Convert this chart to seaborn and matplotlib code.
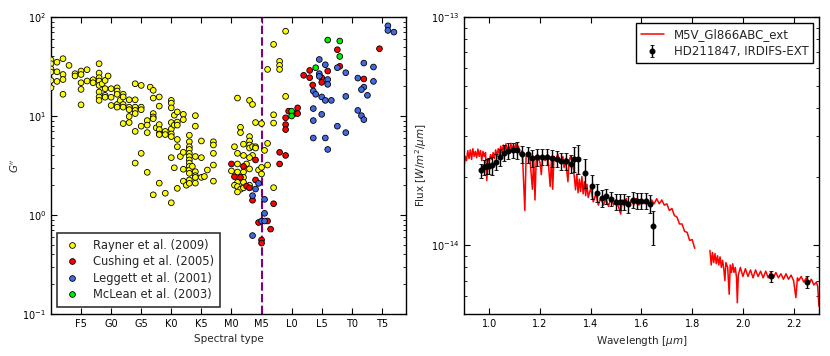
#!/usr/bin/env python3
"""
Colour index G'' vs spectral type, and SED of HD211847 B against an M5V template.
"""

import matplotlib
matplotlib.use("Agg")
import numpy as np
import pandas as pd
import matplotlib.pyplot as plt
from matplotlib.ticker import MultipleLocator, NullFormatter, FixedLocator
import seaborn as sns


# ---- left panel: G'' vs spectral type (F0 = 0, G0 = 10, K0 = 20, M0 = 30, L0 = 40, T0 = 50)
rayner_spt = [0, 0, 0, 0, 0, 0, 1, 1, 1, 2, 2, 2, 2, 3, 4, 4,
              5, 5, 5, 5, 5, 6, 6, 7, 7,
              8, 8, 8, 8, 8, 8, 8, 8, 8.5, 9, 9, 9, 9, 9.5, 10, 10, 10,
              11, 11, 11, 11, 11, 11.5, 12, 12, 12, 12, 12,
              13, 13, 13, 13, 13, 14, 14, 14, 14, 14, 14, 14,
              15, 15, 15, 15, 15, 16, 16, 16, 16.5, 17, 17, 17, 17, 17,
              17.5, 18, 18, 18, 18, 18, 18, 19, 19,
              20, 20, 20, 20, 20, 20, 20, 20, 20.5, 20.5,
              21, 21, 21, 21, 21, 21.5, 22, 22, 22,
              23, 23, 23, 23, 23, 23, 23, 23, 24, 24, 24, 25, 25, 27, 27, 27, 27,
              16, 17, 18, 19, 20, 20.5, 21, 22, 22, 22.5,
              23, 23, 23, 23, 23, 23.5, 24, 24, 24, 24, 25, 25.5, 26, 27,
              31, 33, 33.5, 34, 35, 36, 37, 37, 37, 38, 38, 38, 39, 39,
              31.5, 31.5, 33, 33, 33, 33, 30.5, 32, 33.5, 34, 34, 31, 32, 33.5,
              35.5, 36, 33,
              31, 32.5, 36, 30, 31, 32, 33, 34.5, 35, 35, 32, 31, 32, 30.5,
              31, 31.5, 31, 32, 33, 37]
rayner_g = [37, 33.8, 30, 27.8, 22.9, 19.3, 35, 28, 22.4, 38, 26.3, 23.4, 16.6, 32.5, 26.8, 25.4,
            28.5, 26.3, 21.7, 18.6, 13, 29.4, 22.6, 23.3, 21.7,
            33.8, 27.2, 24.4, 22.6, 20.4, 17.5, 15.6, 14.4, 21.2, 22.9, 18.9, 16.2, 15.5, 25.4, 18.9, 15.5, 12.8,
            19.3, 17.9, 16.6, 13.1, 12.3, 14.4, 16.6, 15.6, 13.1, 12.3, 8.4,
            14.6, 12.3, 11.6, 9.9, 8.6, 21.2, 14.6, 12.3, 11.4, 10.6, 7.0, 3.35,
            20.4, 12.3, 11.6, 7.9, 4.2, 9.0, 8.1, 6.8, 19.6, 18.2, 15.2, 10.6, 9.8, 9.4,
            7.6, 15.6, 12.6, 8.2, 7.3, 6.6, 6.5, 7.0, 6.5,
            14.4, 13.5, 12.1, 8.6, 7.4, 6.6, 6.2, 3.8, 10.2, 8.1,
            11.0, 8.7, 8.1, 5.8, 4.9, 3.9, 10.4, 9.2, 4.3,
            6.4, 5.5, 4.9, 4.6, 4.2, 3.9, 3.6, 3.35, 10.1, 7.9, 3.9, 5.6, 3.8, 5.5, 5.1, 4.2, 3.2,
            2.7, 1.6, 2.1, 1.66, 1.33, 3.0, 1.86, 2.9, 2.2, 2.0,
            3.1, 2.85, 2.64, 2.26, 2.09, 3.1, 2.74, 2.5, 2.4, 2.1, 2.4, 2.45, 2.85, 2.2,
            15.2, 14.4, 13.1, 8.6, 8.4, 29.6, 53, 10.3, 8.5, 35.7, 32.5, 29.6, 72, 15.8,
            7.7, 6.8, 6.2, 5.6, 5.1, 4.75, 4.9, 5.2, 4.9, 4.9, 4.75, 4.2, 4.0, 4.0,
            4.5, 5.3, 3.8,
            3.28, 3.28, 3.2, 2.79, 2.72, 2.72, 2.92, 2.85, 3.03, 2.6, 2.4, 2.14, 2.14, 2.0,
            1.94, 1.82, 1.71, 1.88, 2.0, 1.89]

cushing_spt = [30, 32, 30.5, 31.5, 32.5, 33, 34, 38, 33.5, 37, 34.5, 36, 36.5, 35, 35,
               39, 39, 39, 39.5, 40.5, 41, 41, 38, 39, 34,
               42, 43, 43, 43.5, 45, 45, 46, 47.6, 48, 52, 54.6]
cushing_g = [3.28, 3.1, 2.44, 2.4, 1.96, 1.88, 2.26, 3.28, 1.41, 1.3, 0.84, 0.87, 0.72, 0.56, 0.52,
             9.6, 8.2, 7.3, 11.2, 10.6, 12.1, 10.6, 4.3, 4.0, 3.6,
             25.8, 28.9, 24.4, 20.6, 24.4, 21.9, 28.5, 46.8, 31.8, 23.7, 47.9]

leggett_spt = [34.5, 34, 33.5, 35.5, 35.5, 35, 35.5, 33.5,
               44.6, 45.6, 44.6, 44.6, 46, 46, 47.6, 49, 43.6, 44, 45, 45.6, 46.6, 49,
               43.6, 45, 43.6, 47.6, 49, 43.6, 45.6, 46,
               51, 52, 53.6, 53.6, 52, 51.6, 52.6, 51, 51.6, 52, 56, 56, 57]
leggett_g = [2.09, 1.83, 1.57, 1.44, 1.04, 0.87, 0.87, 0.62,
             37.3, 33, 26.8, 25.2, 23.4, 20.9, 30.8, 27.4, 17.9, 16.6, 15.6, 14.4, 14.4, 15.8,
             11.9, 10.4, 9.0, 7.9, 6.8, 6.0, 6.0, 4.6,
             24.2, 34.3, 31.3, 22.4, 19.6, 18.5, 16.2, 11.4, 10.1, 9.2, 81.7, 73.3, 70.5]

mclean_spt = [40, 40, 44, 46, 48, 48]
mclean_g = [11.2, 10.0, 30.8, 58.6, 57.3, 40.0]

refs = ["Rayner et al. (2009)", "Cushing et al. (2005)",
        "Leggett et al. (2001)", "McLean et al. (2003)"]
ref_colors = ["#ffff00", "#ff0000", "#4169e1", "#00ee00"]

spt_ticks = [5, 10, 15, 20, 25, 30, 35, 40, 45, 50, 55]
spt_labels = ["F5", "G0", "G5", "K0", "K5", "M0", "M5", "L0", "L5", "T0", "T5"]

# ---- right panel: template spectrum (flux in 1e-14 W/m2/um), two segments
model_wl_a = [0.90, 0.905, 0.91, 0.915, 0.92, 0.925, 0.93, 0.935, 0.94, 0.945, 0.95, 0.955,
              0.96, 0.965, 0.97, 0.975, 0.98, 0.985, 0.99, 0.995,
              1.00, 1.005, 1.01, 1.015, 1.02, 1.025, 1.03, 1.035, 1.04, 1.045, 1.05, 1.055,
              1.06, 1.065, 1.07, 1.075, 1.08, 1.085, 1.09, 1.095, 1.10, 1.105, 1.11, 1.115,
              1.12, 1.13, 1.14, 1.145, 1.15, 1.16, 1.17, 1.175, 1.18, 1.185, 1.19, 1.20,
              1.205, 1.21, 1.22, 1.23, 1.24, 1.245, 1.25, 1.255, 1.26, 1.27, 1.28, 1.29,
              1.295, 1.30, 1.31, 1.315, 1.32, 1.33, 1.335, 1.34, 1.345, 1.35, 1.355, 1.36,
              1.365, 1.37, 1.375, 1.38, 1.385, 1.39, 1.40, 1.41, 1.42, 1.43, 1.44, 1.45,
              1.46, 1.47, 1.48, 1.49, 1.50, 1.51, 1.518, 1.525, 1.53, 1.54, 1.55, 1.56,
              1.57, 1.58, 1.59, 1.60, 1.61, 1.62, 1.63, 1.64, 1.65, 1.66, 1.67, 1.68,
              1.69, 1.70, 1.71, 1.72, 1.73, 1.74, 1.75, 1.76, 1.77, 1.78, 1.79, 1.80, 1.81]
model_flux_a = [2.20, 2.45, 2.35, 2.60, 2.40, 2.62, 2.38, 2.65, 2.45, 2.58, 2.42, 2.64,
                2.45, 2.60, 2.35, 2.58, 2.45, 2.55, 1.92, 2.40,
                2.35, 2.50, 2.38, 2.55, 2.40, 2.62, 2.45, 2.65, 2.50, 2.72, 2.55, 2.75,
                2.55, 2.78, 2.58, 2.72, 2.60, 2.80, 2.58, 2.76, 2.60, 2.80, 2.58, 2.72,
                2.50, 2.60, 1.42, 2.45, 2.55, 2.40, 1.76, 2.45, 1.58, 2.40, 2.50, 2.30,
                2.04, 2.45, 2.35, 2.50, 1.81, 2.40, 1.76, 2.45, 2.35, 2.50, 2.30, 2.45,
                2.19, 2.40, 1.90, 2.35, 2.45, 2.25, 2.00, 1.75, 2.05, 1.70, 1.95, 1.72,
                2.00, 1.68, 1.90, 1.65, 1.85, 1.62, 1.78, 1.55, 1.68, 1.50, 1.62, 1.50,
                1.60, 1.48, 1.62, 1.50, 1.58, 1.47, 1.37, 1.58, 1.50, 1.60, 1.48, 1.58,
                1.50, 1.60, 1.50, 1.58, 1.52, 1.60, 1.50, 1.58, 1.52, 1.60, 1.52, 1.58,
                1.50, 1.52, 1.42, 1.45, 1.35, 1.33, 1.24, 1.24, 1.15, 1.14, 1.05, 1.06, 0.97]
model_wl_b = [1.87, 1.875, 1.88, 1.885, 1.89, 1.895, 1.90, 1.905, 1.91, 1.915, 1.92, 1.925,
              1.929, 1.933, 1.94, 1.946, 1.95, 1.955, 1.96, 1.965, 1.97, 1.975, 1.978, 1.982,
              1.99, 2.00, 2.01, 2.02, 2.03, 2.04, 2.05, 2.06, 2.07, 2.08, 2.09, 2.10,
              2.11, 2.12, 2.13, 2.14, 2.15, 2.16, 2.17, 2.18, 2.19, 2.20, 2.209, 2.215,
              2.22, 2.23, 2.24, 2.25, 2.26, 2.27, 2.28, 2.29, 2.295, 2.30]
model_flux_b = [0.95, 0.82, 0.93, 0.84, 0.92, 0.83, 0.90, 0.82, 0.89, 0.80, 0.86, 0.78,
                0.70, 0.84, 0.80, 0.61, 0.82, 0.76, 0.83, 0.76, 0.80, 0.72, 0.56, 0.74,
                0.80, 0.73, 0.79, 0.73, 0.78, 0.72, 0.78, 0.73, 0.77, 0.72, 0.77, 0.72,
                0.76, 0.72, 0.76, 0.72, 0.75, 0.71, 0.75, 0.71, 0.74, 0.70, 0.59, 0.72,
                0.70, 0.73, 0.69, 0.72, 0.68, 0.71, 0.67, 0.69, 0.66, 0.54]

# ---- right panel: measured photometry (1e-14 W/m2/um)
obs_wl = [0.968, 0.979, 0.989, 1.000, 1.010, 1.025, 1.041, 1.058, 1.075, 1.093,
          1.110, 1.130, 1.151, 1.169, 1.188, 1.206, 1.226, 1.246, 1.266, 1.284,
          1.302, 1.321, 1.335, 1.351, 1.376, 1.406, 1.426, 1.443, 1.461, 1.478,
          1.498, 1.514, 1.531, 1.548, 1.565, 1.582, 1.599, 1.616, 1.632, 1.644,
          2.111, 2.251]
obs_flux = [2.13, 2.20, 2.23, 2.23, 2.24, 2.32, 2.43, 2.54, 2.60, 2.61,
            2.62, 2.51, 2.50, 2.41, 2.43, 2.44, 2.44, 2.41, 2.40, 2.34,
            2.33, 2.28, 2.40, 2.40, 2.08, 1.81, 1.70, 1.61, 1.64, 1.60,
            1.55, 1.55, 1.55, 1.52, 1.58, 1.57, 1.57, 1.57, 1.52, 1.21,
            0.733, 0.692]
obs_err = [0.15, 0.17, 0.17, 0.18, 0.20, 0.19, 0.20, 0.20, 0.20, 0.20,
           0.22, 0.22, 0.20, 0.20, 0.20, 0.20, 0.20, 0.20, 0.20, 0.20,
           0.20, 0.20, 0.30, 0.35, 0.30, 0.22, 0.15, 0.14, 0.12, 0.12,
           0.12, 0.12, 0.12, 0.13, 0.13, 0.13, 0.13, 0.13, 0.14, 0.21,
           0.04, 0.04]
flux_ticks = [1e-14, 1e-13]


def setup_style():
    sns.set_style("ticks")
    plt.rcParams.update({
        "font.family": ["DejaVu Sans"],
        "mathtext.fontset": "dejavusans",
        "axes.edgecolor": "black",
        "axes.linewidth": 1.0,
        "xtick.direction": "in",
        "ytick.direction": "in",
        "xtick.top": True,
        "ytick.right": True,
        "xtick.major.size": 4,
        "ytick.major.size": 4,
        "xtick.minor.size": 2,
        "ytick.minor.size": 2,
        "xtick.color": "black",
        "ytick.color": "black",
        "xtick.labelsize": 7,
        "ytick.labelsize": 7,
        "axes.labelsize": 7.5,
    })


def plot_colour_index(ax):
    frames = []
    for name, spt, g in zip(refs,
                            [rayner_spt, cushing_spt, leggett_spt, mclean_spt],
                            [rayner_g, cushing_g, leggett_g, mclean_g]):
        frames.append(pd.DataFrame({"spt": spt, "G": g, "ref": name}))
    df = pd.concat(frames, ignore_index=True)

    sns.scatterplot(data=df, x="spt", y="G", hue="ref", hue_order=refs,
                    palette=dict(zip(refs, ref_colors)), s=17,
                    edgecolor="black", linewidth=0.6, ax=ax, zorder=3)
    ax.axvline(35, color="purple", linestyle="--", dashes=(4, 1.6), linewidth=1.5, zorder=2)

    ax.set_yscale("log")
    ax.set_ylim(0.1, 100)
    ax.set_xlim(0, 59)
    ax.set_xticks(spt_ticks)
    ax.set_xticklabels(spt_labels)
    ax.set_xlabel("Spectral type")
    ax.set_ylabel("$G''$", labelpad=1)
    ax.yaxis.set_minor_formatter(NullFormatter())

    handles, labels = ax.get_legend_handles_labels()
    leg = ax.legend(handles, labels, loc="lower left", fontsize=8.3, frameon=True,
                    fancybox=False, edgecolor="#333333", framealpha=1,
                    handlelength=1.6, handletextpad=1.0, borderpad=0.5,
                    labelspacing=0.3, borderaxespad=0,
                    bbox_to_anchor=(0.017, 0.024))
    leg.get_frame().set_linewidth(1.2)


def plot_sed(ax):
    seg_a = pd.DataFrame({"wl": model_wl_a, "flux": np.array(model_flux_a) * 1e-14})
    seg_b = pd.DataFrame({"wl": model_wl_b, "flux": np.array(model_flux_b) * 1e-14})
    sns.lineplot(data=seg_a, x="wl", y="flux", color="red", linewidth=1.1,
                 estimator=None, sort=False, label="M5V_Gl866ABC_ext", ax=ax)
    sns.lineplot(data=seg_b, x="wl", y="flux", color="red", linewidth=1.1,
                 estimator=None, sort=False, label="_nolegend_", ax=ax)

    ax.errorbar(obs_wl, np.array(obs_flux) * 1e-14, yerr=np.array(obs_err) * 1e-14,
                fmt="o", color="black", markersize=3.3, elinewidth=1.0,
                capsize=1.5, capthick=0.6, ecolor="black",
                label="HD211847, IRDIFS-EXT", zorder=4)

    ax.set_yscale("log")
    ax.set_ylim(5e-15, 1e-13)
    ax.set_xlim(0.9, 2.3)
    ax.xaxis.set_major_locator(MultipleLocator(0.2))
    ax.yaxis.set_major_locator(FixedLocator(flux_ticks))
    ax.yaxis.set_minor_formatter(NullFormatter())
    ax.set_xlabel(r"Wavelength [$\mu m$]")
    ax.set_ylabel(r"Flux [$W/m^2/\mu m$]", labelpad=1)

    leg = ax.legend(loc="upper right", fontsize=8.5, frameon=True, fancybox=False,
                    edgecolor="black", framealpha=1, numpoints=1,
                    borderpad=0.4, labelspacing=0.35)
    leg.get_frame().set_linewidth(1.0)


setup_style()
fig = plt.figure(figsize=(8.3, 3.56), dpi=100)
ax1 = fig.add_axes([0.0614, 0.118, 0.4277, 0.834])
ax2 = fig.add_axes([0.559, 0.118, 0.4277, 0.834])
plot_colour_index(ax1)
plot_sed(ax2)
fig.savefig("out.png", dpi=100)
plt.close(fig)
